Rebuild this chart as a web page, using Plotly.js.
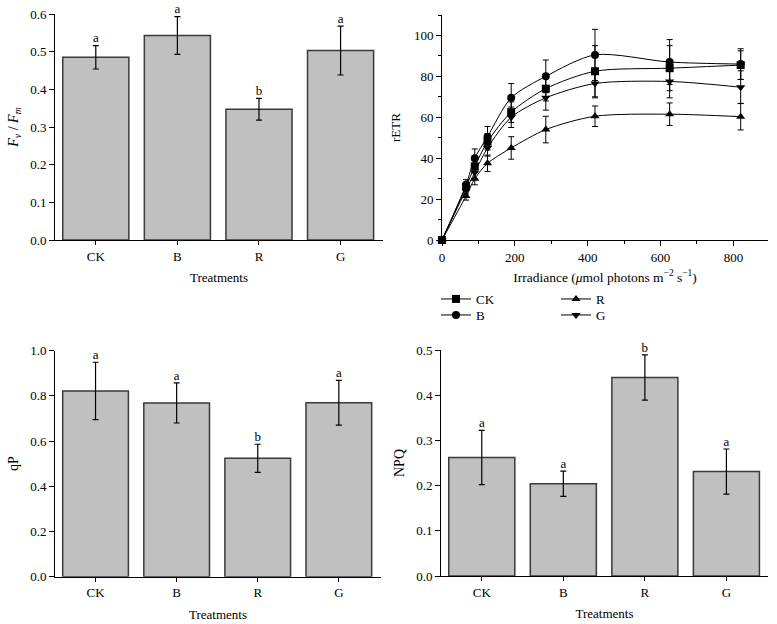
<!DOCTYPE html>
<html>
<head>
<meta charset="utf-8">
<script src="https://cdn.plot.ly/plotly-3.0.1.min.js"></script>
<style>html,body{margin:0;padding:0;background:#fff;}#chart{width:777px;height:624px;}</style>
</head>
<body>
<div id="chart"></div>
<script>
// Categories
const treatments = ["CK", "B", "R", "G"];

// Fv/Fm
const fvfm = [0.485, 0.543, 0.347, 0.503];
const fvfmErr = [0.031, 0.050, 0.029, 0.065];
const fvfmLetters = ["a", "a", "b", "a"];

// qP
const qp = [0.822, 0.769, 0.524, 0.770];
const qpErr = [0.127, 0.089, 0.062, 0.099];
const qpLetters = ["a", "a", "b", "a"];

// NPQ
const npq = [0.262, 0.204, 0.439, 0.231];
const npqErr = [0.060, 0.028, 0.050, 0.050];
const npqLetters = ["a", "a", "b", "a"];

// rETR light curves
const irradiance = [0, 66, 90, 125, 190, 285, 420, 625, 820];
const etrCK = [0, 26, 36, 48, 62.5, 74, 82.5, 84, 85.5];
const etrCKErr = [0, 2, 3, 4, 5, 6, 12.5, 11, 7];
const etrB = [0, 27, 40, 50.5, 69.5, 80, 90.5, 87, 86];
const etrBErr = [0, 2.5, 4.5, 5, 7, 8, 12.5, 11, 7.5];
const etrR = [0, 21.5, 30, 37.5, 45, 54, 60.5, 61.5, 60.3];
const etrRErr = [0, 2, 3, 4, 5.5, 6.5, 5, 5.5, 6.5];
const etrG = [0, 24.5, 33, 45, 60, 69.5, 76.5, 77.5, 74.7];
const etrGErr = [0, 2, 3, 4, 5, 6, 7, 8, 8];

const FONT = "Liberation Serif, Times New Roman, serif";
const barFill = "#c0c0c0";
const barLine = "#3a3a3a";

function barTraces(vals, errs, letters, xa, ya) {
  return [
    {
      type: "bar", x: treatments, y: vals, xaxis: xa, yaxis: ya, width: 0.81,
      marker: {color: barFill, line: {color: barLine, width: 1.5}},
      error_y: {type: "data", array: errs, visible: true, color: "#000", thickness: 1.2, width: 3},
      showlegend: false, hoverinfo: "skip"
    },
    {
      type: "scatter", mode: "text", x: treatments, y: vals.map((v, i) => v + errs[i]),
      text: letters, textposition: "top center", xaxis: xa, yaxis: ya,
      textfont: {family: FONT, size: 13, color: "#000"}, showlegend: false, hoverinfo: "skip",
      cliponaxis: false
    }
  ];
}

const traces = [];
traces.push(...barTraces(fvfm, fvfmErr, fvfmLetters, "x", "y"));
traces.push(...barTraces(qp, qpErr, qpLetters, "x3", "y3"));
traces.push(...barTraces(npq, npqErr, npqLetters, "x4", "y4"));

function etrTrace(name, vals, errs, symbol, legend) {
  return {
    type: "scatter", mode: "lines+markers", name: name, x: irradiance, y: vals,
    xaxis: "x2", yaxis: "y2", legend: legend,
    line: {color: "#000", width: 1, shape: "spline", smoothing: 0.8},
    marker: {symbol: symbol, size: 8, color: "#000"},
    error_y: {type: "data", array: errs, visible: true, color: "#000", thickness: 1, width: 3},
    cliponaxis: false, hoverinfo: "skip"
  };
}
traces.push(etrTrace("CK", etrCK, etrCKErr, "square", "legend"));
traces.push(etrTrace("B", etrB, etrBErr, "circle", "legend2"));
traces.push(etrTrace("R", etrR, etrRErr, "triangle-up", "legend3"));
traces.push(etrTrace("G", etrG, etrGErr, "triangle-down", "legend4"));

const W = 777, H = 624;
const px = v => v / W;
const py = v => 1 - v / H;

const axisBase = {
  showline: true, linecolor: "#000", linewidth: 1, ticks: "outside", ticklen: 5, tickwidth: 1,
  tickcolor: "#000", showgrid: false, zeroline: false, mirror: false,
  tickfont: {family: FONT, size: 13, color: "#000"}
};
function catX(domain, anchor) {
  return Object.assign({}, axisBase, {
    domain: domain, anchor: anchor, type: "category", range: [-0.5, 3.52], ticklen: 4,
    title: {text: "Treatments", font: {family: FONT, size: 13, color: "#000"}, standoff: 10}
  });
}
function valY(domain, anchor, range, dtick, title) {
  return Object.assign({}, axisBase, {
    domain: domain, anchor: anchor, range: range, dtick: dtick, tickformat: ".1f",
    title: {text: title, font: {family: FONT, size: 14, color: "#000"}, standoff: 8}
  });
}
function leg(xpx, ypx) {
  return {x: px(xpx), y: py(ypx), xanchor: "left", yanchor: "top", orientation: "v",
    font: {family: FONT, size: 13, color: "#000"}, bgcolor: "rgba(0,0,0,0)", itemwidth: 30, tracegroupgap: 0};
}

const layout = {
  width: W, height: H, margin: {l: 0, r: 0, t: 0, b: 0},
  paper_bgcolor: "#fff", plot_bgcolor: "#fff",
  font: {family: FONT, size: 13, color: "#000"},
  xaxis: catX([px(55), px(383)], "y"),
  yaxis: valY([py(240), py(14)], "x", [0, 0.6], 0.1, "<i>F</i><sub><i>v</i></sub> / <i>F</i><sub><i>m</i></sub>"),
  xaxis2: Object.assign({}, axisBase, {
    domain: [px(442), px(768)], anchor: "y2", range: [0, 895], dtick: 200,
    minor: {dtick: 100, ticks: "outside", ticklen: 3, tickcolor: "#000"},
    title: {text: "Irradiance (<i>μ</i>mol photons m<sup>−2</sup> s<sup>−1</sup>)", font: {family: FONT, size: 13.5, color: "#000"}, standoff: 8}
  }),
  yaxis2: Object.assign({}, axisBase, {
    domain: [py(240), py(15)], anchor: "x2", range: [0, 110], dtick: 20,
    minor: {dtick: 10, ticks: "outside", ticklen: 3, tickcolor: "#000"},
    title: {text: "rETR", font: {family: FONT, size: 13, color: "#000"}, standoff: 10}
  }),
  xaxis3: catX([px(55), px(381)], "y3"),
  yaxis3: valY([py(576.7), py(350.7)], "x3", [0, 1.0], 0.2, "qP"),
  xaxis4: Object.assign(catX([px(441), px(768)], "y4"), {range: [-0.5, 3.51]}),
  yaxis4: valY([py(576), py(350)], "x4", [0, 0.5], 0.1, "NPQ"),
  legend: leg(436, 284),
  legend2: leg(436, 300),
  legend3: leg(556, 284),
  legend4: leg(556, 300),
  showlegend: true
};

Plotly.newPlot("chart", traces, layout, {displayModeBar: false, staticPlot: true});
</script>
</body>
</html>
